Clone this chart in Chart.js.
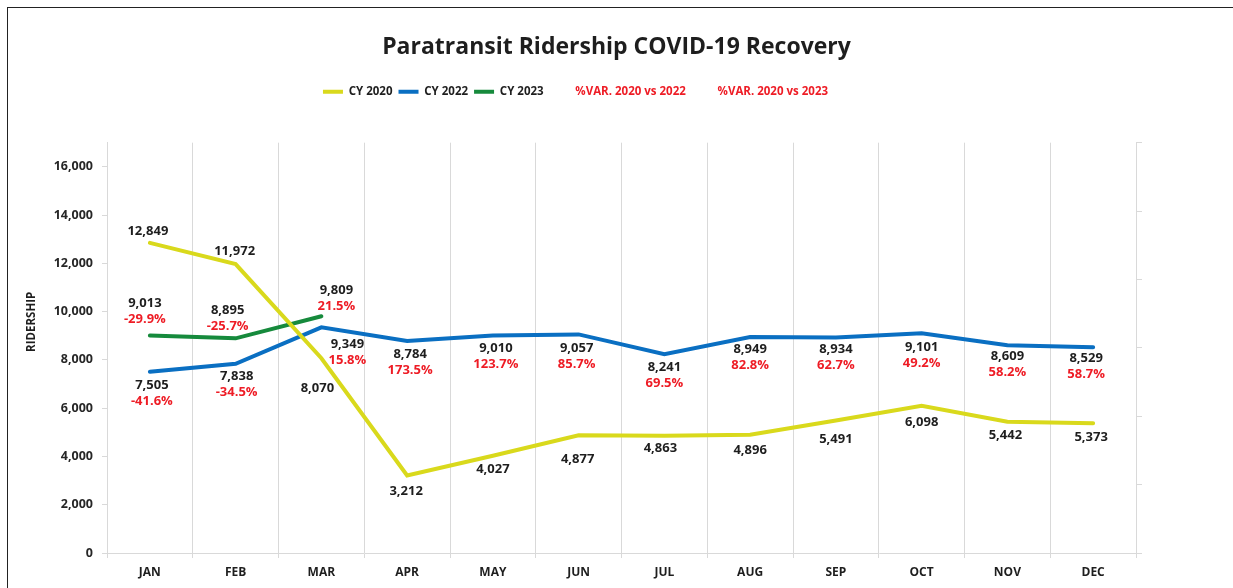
<!DOCTYPE html>
<html>
<head>
<meta charset="utf-8">
<script src="https://cdn.jsdelivr.net/npm/chart.js@4.4.1/dist/chart.umd.min.js"></script>
<style>
  html, body { margin: 0; padding: 0; background: #fff; }
  #wrap { position: relative; width: 1233px; height: 588px; }
  #frame { position: absolute; left: 7px; top: 7px; right: -2px; bottom: -2px;
           border-left: 1.5px solid #222; border-top: 1.5px solid #222; pointer-events: none; }
</style>
</head>
<body>
<div id="wrap">
  <canvas id="chart" width="1233" height="588"></canvas>
  <div id="frame"></div>
</div>
<script>
const months = ['JAN', 'FEB', 'MAR', 'APR', 'MAY', 'JUN', 'JUL', 'AUG', 'SEP', 'OCT', 'NOV', 'DEC'];
const yTicks = [0, 2000, 4000, 6000, 8000, 10000, 12000, 14000, 16000];

const cy2020 = [12849, 11972, 8070, 3212, 4027, 4877, 4863, 4896, 5491, 6098, 5442, 5373];
const cy2022 = [7505, 7838, 9349, 8784, 9010, 9057, 8241, 8949, 8934, 9101, 8609, 8529];
const cy2023 = [9013, 8895, 9809, null, null, null, null, null, null, null, null, null];

// % variation, in percent
const var2022 = [-41.6, -34.5, 15.8, 173.5, 123.7, 85.7, 69.5, 82.8, 62.7, 49.2, 58.2, 58.7];
const var2023 = [-29.9, -25.7, 21.5, null, null, null, null, null, null, null, null, null];

const YELLOW = '#D9D91C';
const BLUE = '#0A6FC2';
const GREEN = '#168A3C';
const RED = '#EE1C25';
const TXT = '#1e1e1e';
const GRID = '#d9d9d9';

Chart.defaults.font.family = "'Open Sans', sans-serif";
Chart.defaults.font.weight = 'bold';

// where the value labels sit around each point (px)
const lbl2020 = { dx: [-2, -1, -4, -1, 0, -1, -4, 0, 0, 0, -2, -2], dy: [-12, -13, 30, 16, 13, 24, 13, 15, 19, 16, 14, 14] };
const lbl2022 = { dx: [2, 1, 26, 3, 3, -2, 0, 0, 0, 0, 0, -7], dy: [13, 12, 17, 13, 13, 14, 13, 12, 12, 14, 11, 11] };
const lbl2023 = { dx: [-5, -8, 15], dy: [-32, -28, -26] };

const labelSets = [
    { ds: 0, src: 0, off: lbl2020, shift: 0, color: TXT, fmt: v => v.toLocaleString('en-US') },
    { ds: 1, src: 1, off: lbl2022, shift: 0, color: TXT, fmt: v => v.toLocaleString('en-US') },
    { ds: 1, src: 3, off: lbl2022, shift: 16, color: RED, fmt: v => (v * 100).toFixed(1) + '%' },
    { ds: 2, src: 2, off: lbl2023, shift: 0, color: TXT, fmt: v => v.toLocaleString('en-US') },
    { ds: 2, src: 4, off: lbl2023, shift: 16, color: RED, fmt: v => (v * 100).toFixed(1) + '%' }
];

const valueLabels = {
    id: 'valueLabels',
    afterDatasetsDraw(chart) {
        const ctx = chart.ctx;
        ctx.save();
        ctx.font = "bold 13px 'Open Sans', sans-serif";
        ctx.textAlign = 'center';
        ctx.textBaseline = 'middle';
        labelSets.forEach(s => {
            const pts = chart.getDatasetMeta(s.ds).data;
            const vals = chart.data.datasets[s.src].data;
            vals.forEach((v, i) => {
                if (v == null || !pts[i]) return;
                ctx.fillStyle = s.color;
                ctx.fillText(s.fmt(v), pts[i].x + s.off.dx[i], pts[i].y + s.off.dy[i] + s.shift);
            });
        });
        ctx.restore();
    }
};

// y axis title, sits a bit above the middle like the original
const yTitle = {
    id: 'yTitle',
    afterDraw(chart) {
        const ctx = chart.ctx;
        const a = chart.chartArea;
        ctx.save();
        ctx.translate(32, (a.top + a.bottom) / 2 - 26);
        ctx.rotate(-Math.PI / 2);
        ctx.font = "bold 11.5px 'Open Sans', sans-serif";
        ctx.fillStyle = TXT;
        ctx.textAlign = 'center';
        ctx.textBaseline = 'middle';
        ctx.fillText('RIDERSHIP', 0, 0);
        ctx.restore();
    }
};

// legend is off-centre to the left in the original
const LEGEND_SHIFT = -41;
const legendShift = {
    id: 'legendShift',
    afterLayout(chart) {
        chart.legend.left += LEGEND_SHIFT;
        chart.legend.right += LEGEND_SHIFT;
    }
};

const lineDs = (label, data, color) => ({
    label: label,
    data: data,
    borderColor: color,
    backgroundColor: color,
    borderWidth: 4,
    borderCapStyle: 'round',
    pointRadius: 0,
    fill: false,
    tension: 0,
    yAxisID: 'y'
});

const varDs = (label, data) => ({
    label: label,
    data: data.map(v => v == null ? null : v / 100),
    borderColor: 'rgba(0,0,0,0)',
    backgroundColor: 'rgba(0,0,0,0)',
    borderWidth: 0,
    pointRadius: 0,
    showLine: false,
    yAxisID: 'y1'
});

new Chart(document.getElementById('chart'), {
    type: 'line',
    data: {
        labels: months,
        datasets: [
            lineDs('CY 2020', cy2020, YELLOW),
            lineDs('CY 2022', cy2022, BLUE),
            lineDs('CY 2023', cy2023, GREEN),
            varDs('%VAR. 2020 vs 2022', var2022),
            varDs('%VAR. 2020 vs 2023', var2023)
        ]
    },
    options: {
        responsive: false,
        animation: false,
        events: [],
        layout: { padding: { left: 0, right: 0, top: 0, bottom: 1.6 } },
        plugins: {
            title: {
                display: true,
                text: 'Paratransit Ridership COVID-19 Recovery',
                color: TXT,
                font: { size: 23, weight: 'bold' },
                padding: { top: 34, bottom: 18.4 }
            },
            subtitle: {
                display: true,
                text: '',
                weight: 500,
                padding: { top: 17, bottom: 17 },
                font: { size: 1 }
            },
            legend: {
                position: 'top',
                labels: {
                    color: TXT,
                    font: { size: 11.5, weight: 'bold' },
                    boxWidth: 20,
                    boxHeight: 4,
                    padding: 6,
                    generateLabels(chart) {
                        const items = Chart.defaults.plugins.legend.labels.generateLabels(chart);
                        items.forEach((it, i) => {
                            it.lineWidth = 0;
                            if (i >= 3) {
                                it.fillStyle = 'rgba(0,0,0,0)';
                                it.fontColor = RED;
                            } else {
                                it.fontColor = TXT;
                            }
                        });
                        return items;
                    }
                }
            },
            tooltip: { enabled: false }
        },
        scales: {
            x: {
                offset: true,
                grid: { offset: true, color: GRID, tickLength: 5 },
                border: { color: GRID },
                ticks: { color: TXT, font: { size: 12 }, padding: 7 }
            },
            y: {
                min: 0,
                max: 17000,
                afterBuildTicks: s => { s.ticks = yTicks.map(v => ({ value: v })); },
                afterFit: s => { s.width = 107; },
                grid: { drawOnChartArea: false, color: GRID, tickLength: 5 },
                border: { color: GRID },
                ticks: {
                    color: '#262626',
                    font: { size: 12.5 },
                    padding: 9,
                    callback: v => v.toLocaleString('en-US')
                }
            },
            y1: {
                position: 'right',
                min: 0,
                max: 3,
                afterFit: s => { s.width = 97; },
                grid: { drawOnChartArea: false, color: GRID, tickLength: 6 },
                border: { color: GRID },
                ticks: { stepSize: 0.5, callback: () => '' }
            }
        }
    },
    plugins: [valueLabels, yTitle, legendShift]
});
</script>
</body>
</html>
